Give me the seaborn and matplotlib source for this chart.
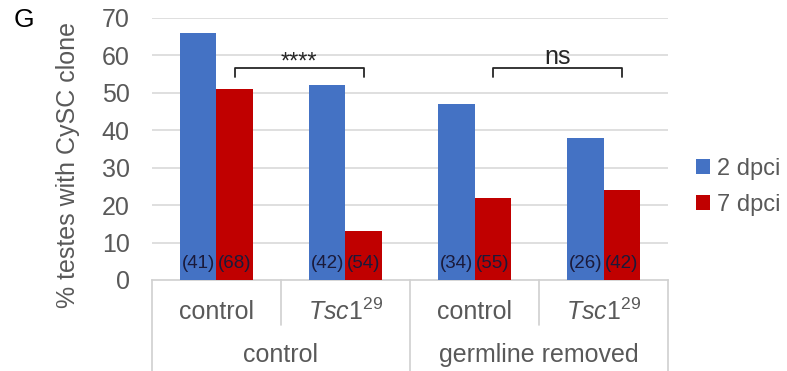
import matplotlib
matplotlib.use("Agg")
import matplotlib.pyplot as plt
import matplotlib.transforms as mtransforms
from matplotlib.patches import Patch
from matplotlib import font_manager
import seaborn as sns
import pandas as pd

sns.set_theme(style="white")
plt.rcParams['font.family'] = ['Liberation Sans', 'DejaVu Sans']
plt.rcParams['mathtext.fontset'] = 'custom'
plt.rcParams['mathtext.it'] = 'Liberation Sans:italic'
plt.rcParams['mathtext.rm'] = 'Liberation Sans'

# ---- data ----
categories = ["ctrl_ctrl", "ctrl_tsc", "germ_ctrl", "germ_tsc"]
cat_labels = ["control", r"$\it{Tsc1}^{\it{29}}$", "control", r"$\it{Tsc1}^{\it{29}}$"]
group_labels = ["control", "germline removed"]
series = ["2 dpci", "7 dpci"]
values_2dpci = [66, 52, 47, 38]
values_7dpci = [51, 13, 22, 24]
counts_2dpci = ["(41)", "(42)", "(34)", "(26)"]
counts_7dpci = ["(68)", "(54)", "(55)", "(42)"]
yticks = [0, 10, 20, 30, 40, 50, 60, 70]
sig_labels = ["****", "ns"]
sig_pairs = [(0, 1), (2, 3)]

colors = ["#4472C4", "#C00000"]
grey_txt = "#595959"
line_col = "#d0d0d0"
FS = 18

names = {f.name for f in font_manager.fontManager.ttflist}
if "Liberation Sans Narrow" in names:
    count_font = ["Liberation Sans Narrow", "Liberation Sans"]
    count_fs = 15
else:
    count_font = ["Liberation Sans", "DejaVu Sans"]
    count_fs = 13.5

df = pd.DataFrame({
    "cat": categories * 2,
    "series": [series[0]] * 4 + [series[1]] * 4,
    "value": values_2dpci + values_7dpci,
})

fig = plt.figure(figsize=(7.87, 3.71), dpi=100)
ax = fig.add_axes([0.193, 0.2453, 0.656, 0.7062])
sns.barplot(data=df, x="cat", y="value", hue="series", order=categories,
            hue_order=series, palette=colors, width=0.57, saturation=1,
            ax=ax, legend=False, errorbar=None, zorder=3, linewidth=0)

ax.set_ylim(0, 70)
ax.set_xlim(-0.5, 3.5)
ax.set_yticks(yticks)
ax.set_yticklabels([str(t) for t in yticks], color=grey_txt, fontsize=FS)
ax.tick_params(axis="y", length=0, pad=16)
ax.set_xticks([])
ax.set_xlabel("")
ax.set_ylabel("")
for t in yticks[1:]:
    ax.axhline(t, color="#d9d9d9", lw=1.2, zorder=0)
for s in ["left", "right", "top"]:
    ax.spines[s].set_visible(False)
ax.spines["bottom"].set_color(line_col)
ax.spines["bottom"].set_linewidth(1.2)

# count labels inside bars
for cont, labels in zip(ax.containers, [counts_2dpci, counts_7dpci]):
    for patch, lab in zip(cont.patches, labels):
        cx = patch.get_x() + patch.get_width() / 2
        ax.text(cx, 4.4, lab, ha="center", va="center", fontsize=count_fs,
                color="#1a1a3a", family=count_font, zorder=4)

# significance brackets (between red-bar centres)
red_centres = [p.get_x() + p.get_width() / 2 for p in ax.containers[1].patches]
for (i, j), lab in zip(sig_pairs, sig_labels):
    x1, x2 = red_centres[i], red_centres[j]
    ax.plot([x1, x1, x2, x2], [54.2, 56.6, 56.6, 54.2], color="#262626", lw=1.3,
            zorder=5, clip_on=False)
    if lab == "****":
        ax.text((x1 + x2) / 2, 55.2, lab, ha="center", va="bottom", fontsize=17,
                color="#262626")
    else:
        ax.text((x1 + x2) / 2, 56.4, lab, ha="center", va="bottom", fontsize=FS,
                color="#262626")

# category table below axis
trans = mtransforms.blended_transform_factory(ax.transData, ax.transAxes)
bounds = [-0.5, 0.5, 1.5, 2.5, 3.5]
for k, b in enumerate(bounds):
    y_end = -0.347 if k % 2 == 0 else -0.172
    ax.plot([b, b], [0, y_end], transform=trans, color=line_col, lw=1.2,
            clip_on=False)
for k, lab in enumerate(cat_labels):
    ax.text(k, -0.122, lab, transform=trans, ha="center", va="center",
            fontsize=FS, color=grey_txt)
for g, lab in enumerate(group_labels):
    ax.text(2 * g + 0.5, -0.286, lab, transform=trans, ha="center",
            va="center", fontsize=FS, color=grey_txt)

# legend
handles = [Patch(facecolor=c, edgecolor="none") for c in colors]
fig.legend(handles, series, loc="center left", bbox_to_anchor=(0.884, 0.497),
           frameon=False, fontsize=17, labelcolor=grey_txt, handlelength=0.6,
           handleheight=0.6, handletextpad=0.3, labelspacing=0.6,
           borderpad=0, borderaxespad=0)

fig.text(0.086, 0.555, "% testes with CySC clone", rotation=90, ha="center",
         va="center", fontsize=FS, color=grey_txt)
fig.text(0.030, 0.945, "G", ha="center", va="center", fontsize=19, color="black")

fig.savefig("out.png", dpi=100)
